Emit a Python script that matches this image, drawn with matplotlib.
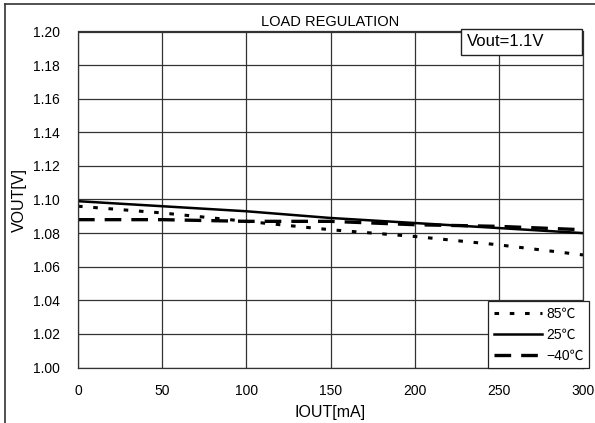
import matplotlib
matplotlib.use("Agg")
import matplotlib.pyplot as plt
from matplotlib.patches import Rectangle
from matplotlib.lines import Line2D

plt.rcParams['font.family'] = ['Liberation Sans', 'Noto Sans CJK JP', 'DejaVu Sans']

iout = [0, 50, 100, 150, 200, 250, 300]
v_85 = [1.096, 1.092, 1.087, 1.082, 1.078, 1.073, 1.067]
v_25 = [1.099, 1.096, 1.093, 1.089, 1.086, 1.083, 1.080]
v_m40 = [1.088, 1.088, 1.087, 1.087, 1.085, 1.084, 1.082]
labels = ['85℃', '25℃', '−40℃']
xticks = [0, 50, 100, 150, 200, 250, 300]
yticks = [1.00, 1.02, 1.04, 1.06, 1.08, 1.10, 1.12, 1.14, 1.16, 1.18, 1.20]

W, H = 595, 423
fig = plt.figure(figsize=(W/100, H/100), dpi=100)
# outer frame (left and top edges visible)
fig.add_artist(Line2D([5/W, 5/W], [0, 1 - 4/H], transform=fig.transFigure, color='#333333', linewidth=1.2))
fig.add_artist(Line2D([5/W, 1], [1 - 4/H, 1 - 4/H], transform=fig.transFigure, color='#333333', linewidth=1.2))

ax = fig.add_axes([78/W, 1 - 367.5/H, (583-78)/W, (367.5-31.5)/H])

ax.plot(iout, v_85, color='black', linewidth=2.2, linestyle=(0, (1.5, 3.5)), label=labels[0])
ax.plot(iout, v_25, color='black', linewidth=1.8, linestyle='-', label=labels[1])
ax.plot(iout, v_m40, color='black', linewidth=2.4, linestyle=(0, (5, 3)), label=labels[2])

ax.set_xlim(0, 300)
ax.set_ylim(1.00, 1.20)
ax.set_xticks(xticks)
ax.set_yticks(yticks)
ax.set_yticklabels([f"{v:.2f}" for v in yticks])
ax.tick_params(axis='y', length=0, labelsize=10, pad=13)
ax.tick_params(axis='x', length=0, labelsize=10, pad=12)
ax.grid(True, color='#333333', linewidth=0.9)
for s in ax.spines.values():
    s.set_color('#333333')
    s.set_linewidth(0.9)

ax.set_xlabel('IOUT[mA]', fontsize=11.5, va='center')
ax.xaxis.set_label_coords(0.5, -(412 - 367.5) / 336)
ax.set_ylabel('VOUT[V]', fontsize=11.5, va='center')
ax.yaxis.set_label_coords(-(78 - 19) / 505, 0.5)
ax.set_title('LOAD REGULATION', fontsize=10.5, pad=4)

# Vout annotation box
x0 = (461 - 78) / 505
x1 = (582 - 78) / 505
y0 = 1 - (55 - 31.5) / 336
y1 = 1 - (29 - 31.5) / 336
ax.add_patch(Rectangle((x0, y0), x1 - x0, y1 - y0, transform=ax.transAxes, facecolor='white',
                       edgecolor='#222222', linewidth=1.0, clip_on=False, zorder=5))
ax.text((467 - 78) / 505, (y0 + y1) / 2, 'Vout=1.1V', transform=ax.transAxes, fontsize=12,
        va='center', ha='left', zorder=6)

leg = fig.legend(*ax.get_legend_handles_labels(), loc='lower left',
                 bbox_to_anchor=(488/W, 1 - 368/H), bbox_transform=fig.transFigure,
                 fontsize=10, frameon=True, fancybox=False, framealpha=1,
                 edgecolor='#222222', handlelength=3.5, handletextpad=0.3,
                 borderpad=0.4, labelspacing=0.5, borderaxespad=0)
leg.get_frame().set_linewidth(0.9)

fig.savefig('out.png', dpi=100)
